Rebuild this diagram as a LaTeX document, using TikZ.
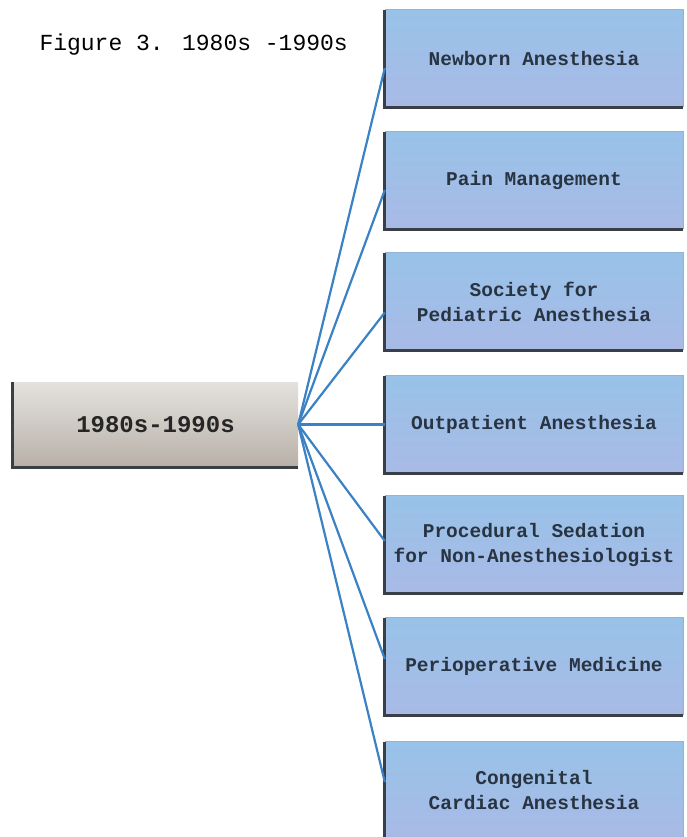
\documentclass[tikz,border=0pt]{standalone}
\usepackage{fontspec}
\newfontfamily\typefont{Liberation Mono}
\begin{document}
\begin{tikzpicture}[x=1pt,y=-1pt,
  topicbox/.style={rectangle, minimum width=298pt, minimum height=97pt,
    inner sep=0pt, top color=boxtop, bottom color=boxbot, align=center,
    text=labeltext, font=\typefont\bfseries\fontsize{19.5}{25}\selectfont},
  hubbox/.style={rectangle, minimum width=285pt, minimum height=85pt,
    inner sep=0pt, top color=hubtop, bottom color=hubbot,
    text=black!85, font=\typefont\bfseries\fontsize{24}{28}\selectfont},
  darkedge/.style={draw=edgegray, line width=3pt},
  softedge/.style={draw=boxtop!80!gray, line width=0.8pt},
  link/.style={draw=linkblue, line width=2.2pt},
]
\definecolor{boxtop}{RGB}{152,194,232}
\definecolor{boxbot}{RGB}{168,186,230}
\definecolor{hubtop}{RGB}{228,226,222}
\definecolor{hubbot}{RGB}{184,176,168}
\definecolor{edgegray}{RGB}{58,62,70}
\definecolor{linkblue}{RGB}{58,130,196}
\definecolor{labeltext}{RGB}{40,52,66}

\useasboundingbox[fill=white] (0,0) rectangle (687,837);

% title
\node[anchor=west, font=\typefont\fontsize{23}{28}\selectfont, text=black]
  (title) at (36,45) {Figure 3. 1980s -1990s};

% central era box
\node[hubbox] (hub) at (155.5,424.5) {1980s-1990s};
\draw[darkedge] (hub.north west) -- (hub.south west) -- (hub.south east);

% topic boxes
\node[topicbox] (b1) at (534,58.5)  {Newborn Anesthesia};
\node[topicbox] (b2) at (534,180.5) {Pain Management};
\node[topicbox] (b3) at (534,301.5) {Society for\\Pediatric Anesthesia};
\node[topicbox] (b4) at (534,424.5) {Outpatient Anesthesia};
\node[topicbox] (b5) at (534,544.5) {Procedural Sedation\\for Non-Anesthesiologist};
\node[topicbox] (b6) at (534,666.5) {Perioperative Medicine};
\node[topicbox] (b7) at (534,790.5) {Congenital\\Cardiac Anesthesia};

\foreach \b in {b1,b2,b3,b4,b5,b6,b7}{
  \draw[softedge] (\b.north west) -- (\b.north east) -- (\b.south east);
  \draw[darkedge] (\b.north west) -- (\b.south west) -- (\b.south east);
}

% connectors fanning out from the era box
\draw[link] (hub.east) -- ([yshift=-9.5pt]b1.west);
\draw[link] (hub.east) -- ([yshift=-9.5pt]b2.west);
\draw[link] (hub.east) -- ([yshift=-11pt]b3.west);
\draw[link] (hub.east) -- (b4.west);
\draw[link] (hub.east) -- ([yshift=3.5pt]b5.west);
\draw[link] (hub.east) -- ([yshift=7.5pt]b6.west);
\draw[link] (hub.east) -- ([yshift=8.5pt]b7.west);
\end{tikzpicture}
\end{document}
